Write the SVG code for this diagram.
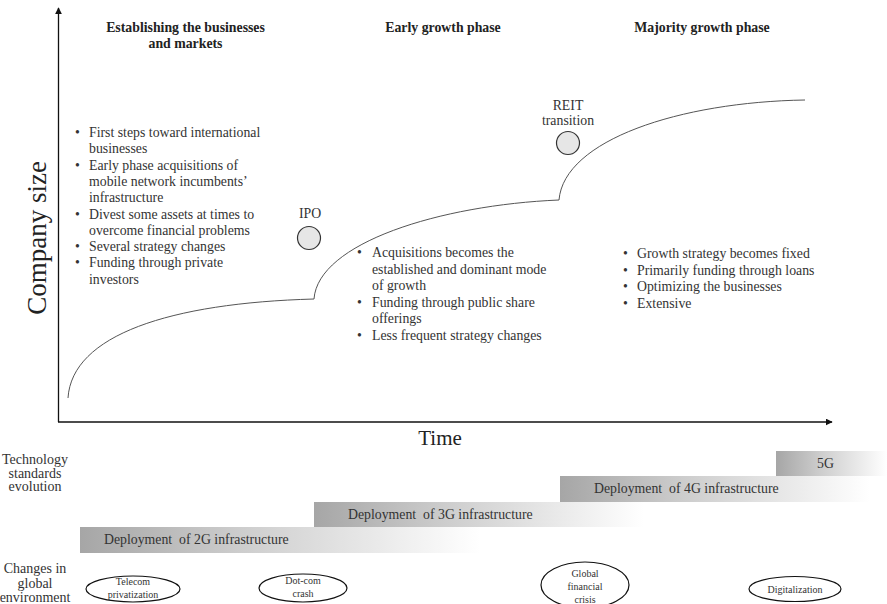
<svg xmlns="http://www.w3.org/2000/svg" width="887" height="604" viewBox="0 0 887 604">
  <defs>
    <style>
      text { font-family: "Liberation Serif", "Times New Roman", serif; fill: #333; }
      .head { font-size: 13.8px; font-weight: bold; text-anchor: middle; fill: #222; }
      .body { font-size: 13.8px; }
      .mid { text-anchor: middle; }
      .axis-label { font-size: 21px; text-anchor: middle; fill: #222; }
      .side { font-size: 14px; text-anchor: middle; }
      .bar-text { font-size: 13.8px; white-space: pre; }
      .ev { font-size: 10px; text-anchor: middle; }
      .axis { stroke: #111; stroke-width: 1.3; fill: none; }
      .curve { stroke: #555; stroke-width: 1; fill: none; }
      .milestone { fill: #e6e6e6; stroke: #333; stroke-width: 1.2; }
      .event { fill: #fff; stroke: #111; stroke-width: 1.2; }
    </style>
    <marker id="arrow" viewBox="0 0 10 10" refX="9" refY="5" markerWidth="7" markerHeight="7" orient="auto" markerUnits="userSpaceOnUse">
      <path d="M0,0 L10,5 L0,10 z" fill="#111"/>
    </marker>
    <linearGradient id="fade" x1="0" y1="0" x2="1" y2="0">
      <stop offset="0" stop-color="#a6a6a6"/>
      <stop offset="0.4" stop-color="#cdcdcd"/>
      <stop offset="1" stop-color="#ffffff"/>
    </linearGradient>
  </defs>

  <!-- axes -->
  <g id="axes">
    <line class="axis" x1="58.5" y1="422" x2="58.5" y2="8" marker-end="url(#arrow)"/>
    <line class="axis" x1="58" y1="422" x2="832" y2="422" marker-end="url(#arrow)"/>
    <text class="axis-label" style="font-size:27px" transform="translate(46,238) rotate(-90)">Company size</text>
    <text class="axis-label" x="440" y="445">Time</text>
  </g>

  <!-- phase headings -->
  <g id="phases">
    <text class="head" x="185.5" y="32">Establishing the businesses</text>
    <text class="head" x="185.5" y="48">and markets</text>
    <text class="head" x="443" y="32">Early growth phase</text>
    <text class="head" x="702" y="32">Majority growth phase</text>
  </g>

  <!-- growth curve segments -->
  <g id="connectors">
    <path class="curve" d="M68,398 C72,335 170,303 314,299"/>
    <path class="curve" d="M314,299 C318,243 440,205 559,200"/>
    <path class="curve" d="M559,200 C564,140 680,102 805,100"/>
  </g>

  <!-- milestones -->
  <g id="ipo">
    <text class="body mid" x="310" y="218">IPO</text>
    <circle class="milestone" cx="309" cy="238" r="11.5"/>
  </g>
  <g id="reit">
    <text class="body mid" x="568" y="110">REIT</text>
    <text class="body mid" x="568" y="125">transition</text>
    <circle class="milestone" cx="568" cy="143" r="11.5"/>
  </g>

  <!-- phase characteristics -->
  <g id="notes-establishing" class="body">
    <text x="75" y="137">•</text><text x="89" y="137">First steps toward international</text>
    <text x="89" y="153.3">businesses</text>
    <text x="75" y="169.6">•</text><text x="89" y="169.6">Early phase acquisitions of</text>
    <text x="89" y="185.9">mobile network incumbents’</text>
    <text x="89" y="202.2">infrastructure</text>
    <text x="75" y="218.5">•</text><text x="89" y="218.5">Divest some assets at times to</text>
    <text x="89" y="234.8">overcome financial problems</text>
    <text x="75" y="251.1">•</text><text x="89" y="251.1">Several strategy changes</text>
    <text x="75" y="267.4">•</text><text x="89" y="267.4">Funding through private</text>
    <text x="89" y="283.7">investors</text>
  </g>
  <g id="notes-early" class="body">
    <text x="357" y="257">•</text><text x="372" y="257">Acquisitions becomes the</text>
    <text x="372" y="273.6">established and dominant mode</text>
    <text x="372" y="290.2">of growth</text>
    <text x="357" y="306.8">•</text><text x="372" y="306.8">Funding through public share</text>
    <text x="372" y="323.4">offerings</text>
    <text x="357" y="340">•</text><text x="372" y="340">Less frequent strategy changes</text>
  </g>
  <g id="notes-majority" class="body">
    <text x="623" y="258">•</text><text x="637" y="258">Growth strategy becomes fixed</text>
    <text x="623" y="274.7">•</text><text x="637" y="274.7">Primarily funding through loans</text>
    <text x="623" y="291.4">•</text><text x="637" y="291.4">Optimizing the businesses</text>
    <text x="623" y="308">•</text><text x="637" y="308">Extensive</text>
  </g>

  <!-- technology standards -->
  <g id="tech-label">
    <text class="side" x="35" y="464">Technology</text>
    <text class="side" x="35" y="477.5">standards</text>
    <text class="side" x="35" y="491">evolution</text>
  </g>
  <g id="bar-2g">
    <rect x="80" y="527" width="400" height="26" fill="url(#fade)"/>
    <text class="bar-text" x="104" y="544">Deployment  of 2G infrastructure</text>
  </g>
  <g id="bar-3g">
    <rect x="314" y="502" width="330" height="25" fill="url(#fade)"/>
    <text class="bar-text" x="348" y="519">Deployment  of 3G infrastructure</text>
  </g>
  <g id="bar-4g">
    <rect x="560" y="476" width="310" height="26" fill="url(#fade)"/>
    <text class="bar-text" x="594" y="493">Deployment  of 4G infrastructure</text>
  </g>
  <g id="bar-5g">
    <rect x="776" y="451" width="111" height="25" fill="url(#fade)"/>
    <text class="bar-text" x="817" y="468">5G</text>
  </g>

  <!-- global environment -->
  <g id="env-label">
    <text class="side" x="35" y="573">Changes in</text>
    <text class="side" x="35" y="588">global</text>
    <text class="side" x="35" y="602">environment</text>
  </g>
  <g id="ev-telecom">
    <ellipse class="event" cx="133" cy="589" rx="47" ry="13"/>
    <text class="ev" x="133" y="585">Telecom</text>
    <text class="ev" x="133" y="598">privatization</text>
  </g>
  <g id="ev-dotcom">
    <ellipse class="event" cx="303" cy="588" rx="44" ry="14"/>
    <text class="ev" x="303" y="584">Dot-com</text>
    <text class="ev" x="303" y="597">crash</text>
  </g>
  <g id="ev-crisis">
    <ellipse class="event" cx="585" cy="585" rx="44" ry="23"/>
    <text class="ev" x="585" y="577">Global</text>
    <text class="ev" x="585" y="590">financial</text>
    <text class="ev" x="585" y="603">crisis</text>
  </g>
  <g id="ev-digital">
    <ellipse class="event" cx="795" cy="589" rx="46" ry="12.5"/>
    <text class="ev" x="795" y="593">Digitalization</text>
  </g>
</svg>
